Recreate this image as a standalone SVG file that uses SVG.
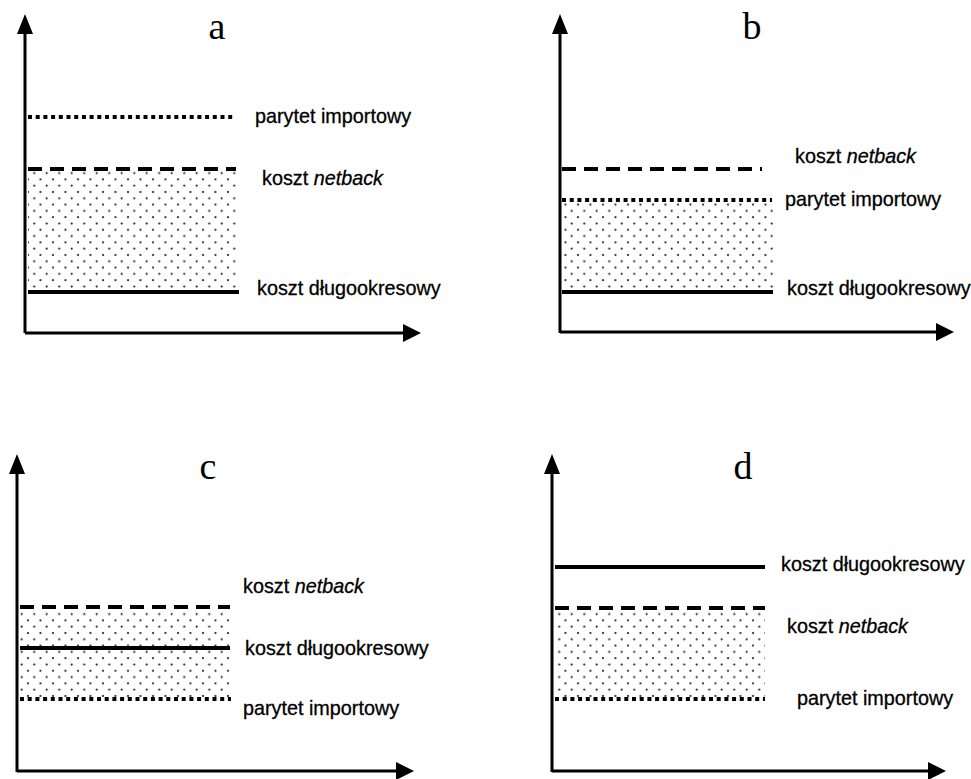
<svg xmlns="http://www.w3.org/2000/svg" width="971" height="779" viewBox="0 0 971 779">
<defs>
<pattern id="dots" patternUnits="userSpaceOnUse" width="12.5" height="12.6">
<circle cx="3" cy="3" r="1.05" fill="#111"/>
<circle cx="9.25" cy="9.3" r="1.05" fill="#111"/>
</pattern>
</defs>
<style>
.axis{stroke:#000;stroke-width:3;fill:none}
.solid{stroke:#000;stroke-width:4;fill:none}
.dash{stroke:#000;stroke-width:4;stroke-dasharray:14 8;fill:none}
.dot{stroke:#000;stroke-width:4;stroke-dasharray:4 3.7;fill:none}
.lbl{font-family:"Liberation Sans",Arial,sans-serif;font-size:19.8px;fill:#000;stroke:#000;stroke-width:0.3}
.ttl{font-family:"Liberation Serif","Times New Roman",serif;font-size:38px;fill:#000}
.shade{fill:url(#dots)}
</style>
<rect width="971" height="779" fill="#fff"/>

<g id="panel-a">
<rect class="shade" x="28" y="171" width="210" height="119"/>
<path class="axis" d="M25,333 V32" />
<path d="M17,34 L25,14 L33,34 Z" fill="#000"/>
<path class="axis" d="M25,333 H405"/>
<path d="M403,324 L421,333 L403,342 Z" fill="#000"/>
<text class="ttl" x="217" y="39" text-anchor="middle">a</text>
<line class="dot" x1="28" y1="117" x2="234" y2="117"/>
<text class="lbl" x="255" y="123">parytet importowy</text>
<line class="dash" x1="28" y1="169" x2="236" y2="169"/>
<text class="lbl" x="262" y="185">koszt <tspan font-style="italic">netback</tspan></text>
<line class="solid" x1="28" y1="292" x2="239" y2="292"/>
<text class="lbl" x="257" y="295">koszt długookresowy</text>
</g>

<g id="panel-b">
<rect class="shade" x="562" y="202" width="212" height="88"/>
<path class="axis" d="M560,333 V32"/>
<path d="M552,34 L560,14 L568,34 Z" fill="#000"/>
<path class="axis" d="M560,332 H938"/>
<path d="M936,323 L954,332 L936,341 Z" fill="#000"/>
<text class="ttl" x="752" y="39" text-anchor="middle">b</text>
<line class="dash" x1="562" y1="169" x2="762" y2="169"/>
<text class="lbl" x="795" y="163">koszt <tspan font-style="italic">netback</tspan></text>
<line class="dot" x1="562" y1="200" x2="772" y2="200"/>
<text class="lbl" x="785" y="206">parytet importowy</text>
<line class="solid" x1="562" y1="292" x2="773" y2="292"/>
<text class="lbl" x="787" y="295">koszt długookresowy</text>
</g>

<g id="panel-c">
<rect class="shade" x="20" y="609" width="210" height="88"/>
<path class="axis" d="M17,772 V472"/>
<path d="M9,474 L17,454 L25,474 Z" fill="#000"/>
<path class="axis" d="M17,771 H398"/>
<path d="M396,762 L414,771 L396,780 Z" fill="#000"/>
<text class="ttl" x="208" y="479" text-anchor="middle">c</text>
<line class="dash" x1="20" y1="607" x2="230" y2="607"/>
<text class="lbl" x="243" y="593">koszt <tspan font-style="italic">netback</tspan></text>
<line class="solid" x1="20" y1="648" x2="230" y2="648"/>
<text class="lbl" x="245" y="655">koszt długookresowy</text>
<line class="dot" x1="20" y1="699" x2="231" y2="699"/>
<text class="lbl" x="243" y="715">parytet importowy</text>
</g>

<g id="panel-d">
<rect class="shade" x="555" y="610" width="210" height="87"/>
<path class="axis" d="M552,772 V472"/>
<path d="M544,474 L552,454 L560,474 Z" fill="#000"/>
<path class="axis" d="M552,771 H930"/>
<path d="M928,762 L946,771 L928,780 Z" fill="#000"/>
<text class="ttl" x="743" y="479" text-anchor="middle">d</text>
<line class="solid" x1="555" y1="567" x2="765" y2="567"/>
<text class="lbl" x="781" y="571">koszt długookresowy</text>
<line class="dash" x1="555" y1="608" x2="765" y2="608"/>
<text class="lbl" x="787" y="633">koszt <tspan font-style="italic">netback</tspan></text>
<line class="dot" x1="555" y1="699" x2="765" y2="699"/>
<text class="lbl" x="797" y="705">parytet importowy</text>
</g>
</svg>
